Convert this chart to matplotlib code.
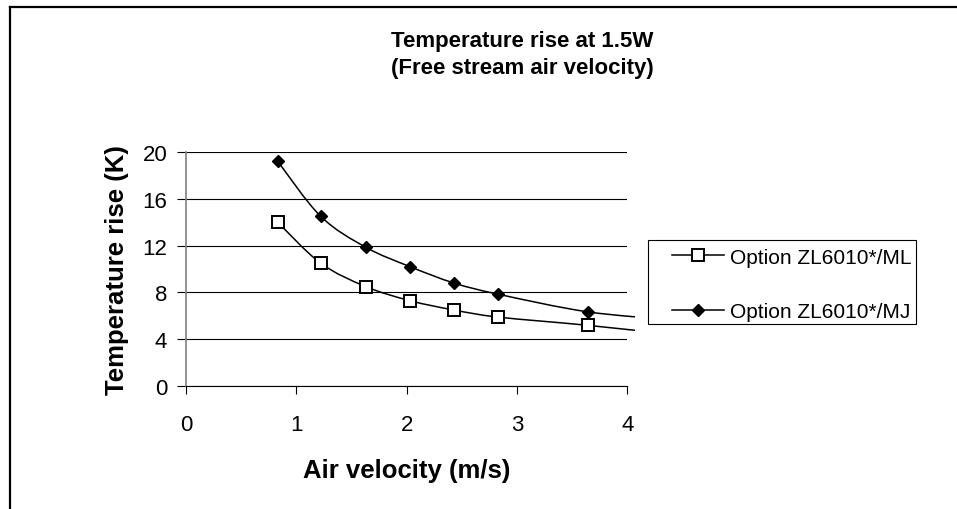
import matplotlib
matplotlib.use("Agg")
import matplotlib.pyplot as plt
import numpy as np
from matplotlib.path import Path
from matplotlib.patches import PathPatch, Rectangle
from matplotlib.lines import Line2D

plt.rcParams['font.family'] = ['Liberation Sans', 'DejaVu Sans']

# air velocity (m/s); the last point lies past the axis end and is clipped
velocity = [0.83, 1.22, 1.63, 2.03, 2.43, 2.83, 3.64, 4.43]
rise_ml = [14.0, 10.5, 8.5, 7.3, 6.5, 5.9, 5.2, 4.4]
rise_mj = [19.2, 14.5, 11.85, 10.2, 8.8, 7.85, 6.35, 5.65]
label_ml = "Option ZL6010*/ML"
label_mj = "Option ZL6010*/MJ"
xticks = [0, 1, 2, 3, 4]
yticks = [0, 4, 8, 12, 16, 20]


def smooth_path(xs, ys):
    # excel-like smoothed line: catmull-rom segments as cubic beziers
    pts = np.column_stack([xs, ys]).astype(float)
    n = len(pts)
    verts = [pts[0]]
    codes = [Path.MOVETO]
    for i in range(n - 1):
        p0 = pts[i - 1] if i > 0 else pts[i]
        p1 = pts[i]
        p2 = pts[i + 1]
        p3 = pts[i + 2] if i + 2 < n else pts[i + 1]
        c1 = p1 + (p2 - p0) / 6.0
        c2 = p2 - (p3 - p1) / 6.0
        verts += [c1, c2, p2]
        codes += [Path.CURVE4] * 3
    return Path(verts, codes)


fig = plt.figure(figsize=(9.57, 5.10), dpi=100)
ax = fig.add_axes([186 / 957, 122.7 / 510, 441.3 / 957, 234.6 / 510])

clip = Rectangle((0, 0), 1.017, 1, transform=ax.transAxes, visible=False)
ax.add_patch(clip)

for xs, ys in [(velocity, rise_ml), (velocity, rise_mj)]:
    patch = PathPatch(smooth_path(xs, ys), fill=False, edgecolor='black', lw=1.1, zorder=3)
    ax.add_patch(patch)
    patch.set_clip_path(clip)

ax.plot(velocity, rise_ml, ls='none', marker='s', ms=8.5, mfc='white', mec='black', mew=1.4, zorder=4)
ax.plot(velocity, rise_mj, ls='none', marker='D', ms=6.3, mfc='black', mec='black', zorder=4)

ax.set_xlim(0, 4)
ax.set_ylim(0, 20)
ax.set_xticks(xticks)
ax.set_yticks(yticks)
ax.yaxis.grid(True, color='black', lw=0.8)
ax.set_axisbelow(True)

for s in ['top', 'right']:
    ax.spines[s].set_visible(False)
ax.spines['left'].set_color('#808080')
ax.spines['left'].set_linewidth(1.2)
ax.spines['bottom'].set_color('black')
ax.spines['bottom'].set_linewidth(0.8)
ax.tick_params(axis='both', direction='out', length=6.5, width=0.8, labelsize=16, pad=7, colors='black')
ax.tick_params(axis='x', length=6, pad=14)

ax.set_xlabel("Air velocity (m/s)", fontsize=18.5, fontweight='bold')
ax.set_ylabel("Temperature rise (K)", fontsize=18.5, fontweight='bold')
ax.xaxis.label.set_va('center')
ax.yaxis.label.set_va('center')
ax.xaxis.set_label_coords(0.5, (387.3 - 471) / 234.6)
ax.yaxis.set_label_coords((117 - 186) / 441.3, 0.5)

fig.text(522 / 957, 1 - 55 / 510, "Temperature rise at 1.5W\n(Free stream air velocity)",
         ha='center', va='center', fontsize=16, fontweight='bold', linespacing=1.38)

# legend frame drawn separately so padding can match the original
fig.add_artist(Rectangle((648 / 957, 1 - 325 / 510), (916 - 648) / 957, 84 / 510,
                         transform=fig.transFigure, fill=True, facecolor='white',
                         edgecolor='black', lw=0.8, zorder=5))
handles = [
    Line2D([], [], color='black', lw=1.1, marker='s', ms=8.5, mfc='white', mec='black', mew=1.4),
    Line2D([], [], color='black', lw=1.1, marker='D', ms=6.3, mfc='black'),
]
leg = fig.legend(handles, [label_ml, label_mj], loc='upper left',
                 bbox_to_anchor=(672 / 957, 1 - 248.5 / 510), fontsize=15,
                 frameon=False, handlelength=2.5, handletextpad=0.29,
                 labelspacing=1.72, borderpad=0, borderaxespad=0)
leg.set_zorder(6)

# chart frame (cut at right and bottom edges of the picture)
fig.add_artist(Line2D([10 / 957, 10 / 957], [0, 1 - 7.5 / 510], color='black', lw=1.6))
fig.add_artist(Line2D([10 / 957, 1], [1 - 7.5 / 510, 1 - 7.5 / 510], color='black', lw=1.6))

fig.savefig("out.png", dpi=100)
